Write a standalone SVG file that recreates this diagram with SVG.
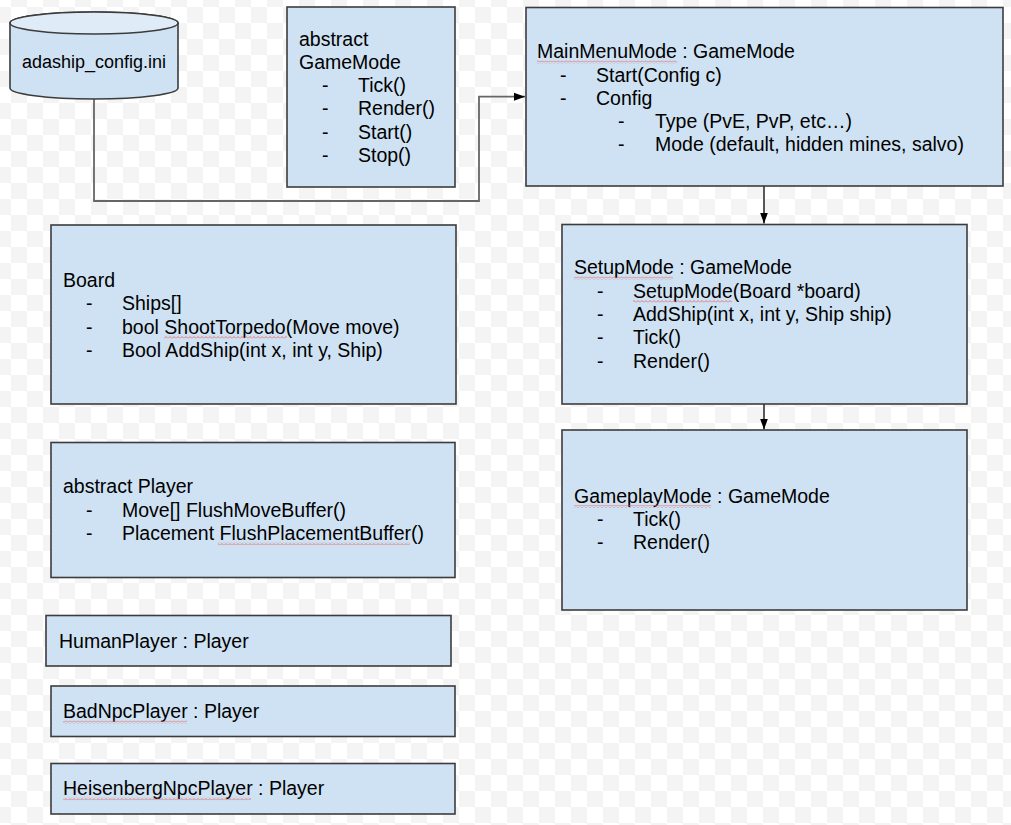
<svg xmlns="http://www.w3.org/2000/svg" width="1011" height="825" viewBox="0 0 1011 825">
  <style>
    .box { fill: #cfe2f3; stroke: #3c3c3c; stroke-width: 1.6; }
    .lbl { font-family: "Liberation Sans", Arial, sans-serif; font-size: 19.5px; fill: #000; }
    .cyl { font-family: "Liberation Sans", Arial, sans-serif; font-size: 18px; fill: #000; }
    .wire { fill: none; stroke: #666; stroke-width: 1.8; }
    .flow { fill: none; stroke: #000; stroke-width: 1.3; }
    .squig { fill: url(#squiggle); }
  </style>
  <defs>
    <pattern id="checker" x="11" y="7" width="32" height="32" patternUnits="userSpaceOnUse">
      <rect width="32" height="32" fill="#ffffff"/>
      <rect x="16" y="0" width="16" height="16" fill="#f4f4f4"/>
      <rect x="0" y="16" width="16" height="16" fill="#f4f4f4"/>
    </pattern>
    <pattern id="squiggle" x="0" y="0" width="4" height="3" patternUnits="userSpaceOnUse">
      <path d="M0,2.5 L2,0.5 L4,2.5" fill="none" stroke="#e26a6a" stroke-width="0.9"/>
    </pattern>
    <marker id="head" markerUnits="userSpaceOnUse" markerWidth="12" markerHeight="9" refX="11" refY="4.5" orient="auto">
      <path d="M0,0.5 L11,4.5 L0,8.5 Z" fill="#000"/>
    </marker>
  </defs>

  <!-- transparent-canvas backdrop -->
  <rect width="1011" height="825" fill="url(#checker)"/>

  <!-- connectors -->
  <g id="connectors">
    <path class="wire" d="M94,99 V201 H479 V96.7 H525" marker-end="url(#head)"/>
    <path class="flow" d="M764,186 V223.5" marker-end="url(#head)"/>
    <path class="flow" d="M764,404 V429.5" marker-end="url(#head)"/>
  </g>

  <!-- config file store -->
  <g id="config-file">
    <path d="M10,23 A84,11 0 0 1 178,23 V88 A84,11 0 0 1 10,88 Z" fill="#cfe2f3" stroke="#3c3c3c" stroke-width="1.6"/>
    <ellipse cx="94" cy="23" rx="84" ry="11" fill="#dfecf8" stroke="#3c3c3c" stroke-width="1.6"/>
    <text class="cyl" x="94" y="68" text-anchor="middle">adaship_config.ini</text>
  </g>

  <!-- abstract GameMode -->
  <g id="gamemode">
    <rect class="box" x="287" y="7" width="168" height="180"/>
    <text class="lbl">
      <tspan x="299" y="45.7">abstract</tspan>
      <tspan x="299" y="68.9">GameMode</tspan>
      <tspan x="322" y="92.1">-</tspan><tspan x="358" y="92.1">Tick()</tspan>
      <tspan x="322" y="115.3">-</tspan><tspan x="358" y="115.3">Render()</tspan>
      <tspan x="322" y="138.5">-</tspan><tspan x="358" y="138.5">Start()</tspan>
      <tspan x="322" y="161.7">-</tspan><tspan x="358" y="161.7">Stop()</tspan>
    </text>
  </g>

  <!-- MainMenuMode -->
  <g id="mainmenumode">
    <rect class="box" x="526" y="7.5" width="477" height="178.5"/>
    <text class="lbl">
      <tspan x="537" y="58.3">MainMenuMode : GameMode</tspan>
      <tspan x="560" y="81.5">-</tspan><tspan x="596" y="81.5">Start(Config c)</tspan>
      <tspan x="560" y="104.7">-</tspan><tspan x="596" y="104.7">Config</tspan>
      <tspan x="618" y="127.9">-</tspan><tspan x="655" y="127.9">Type (PvE, PvP, etc…)</tspan>
      <tspan x="618" y="151.1">-</tspan><tspan x="655" y="151.1">Mode (default, hidden mines, salvo)</tspan>
    </text>
    <rect class="squig" x="537" y="60.5" width="140" height="3"/>
  </g>

  <!-- Board -->
  <g id="board">
    <rect class="box" x="51" y="225" width="405" height="179"/>
    <text class="lbl">
      <tspan x="63" y="286.9">Board</tspan>
      <tspan x="86" y="310.2">-</tspan><tspan x="122" y="310.2">Ships[]</tspan>
      <tspan x="86" y="333.5">-</tspan><tspan x="122" y="333.5">bool ShootTorpedo(Move move)</tspan>
      <tspan x="86" y="356.8">-</tspan><tspan x="122" y="356.8">Bool AddShip(int x, int y, Ship)</tspan>
    </text>
    <rect class="squig" x="164" y="335.8" width="123" height="3"/>
  </g>

  <!-- SetupMode -->
  <g id="setupmode">
    <rect class="box" x="562" y="224.5" width="405" height="179.5"/>
    <text class="lbl">
      <tspan x="574" y="274.3">SetupMode : GameMode</tspan>
      <tspan x="597" y="297.6">-</tspan><tspan x="633" y="297.6">SetupMode(Board *board)</tspan>
      <tspan x="597" y="320.9">-</tspan><tspan x="633" y="320.9">AddShip(int x, int y, Ship ship)</tspan>
      <tspan x="597" y="344.2">-</tspan><tspan x="633" y="344.2">Tick()</tspan>
      <tspan x="597" y="367.5">-</tspan><tspan x="633" y="367.5">Render()</tspan>
    </text>
    <rect class="squig" x="574" y="276.6" width="99" height="3"/>
    <rect class="squig" x="633" y="299.9" width="99" height="3"/>
  </g>

  <!-- GameplayMode -->
  <g id="gameplaymode">
    <rect class="box" x="562" y="430" width="405" height="180"/>
    <text class="lbl">
      <tspan x="574" y="502.7">GameplayMode : GameMode</tspan>
      <tspan x="597" y="526">-</tspan><tspan x="633" y="526">Tick()</tspan>
      <tspan x="597" y="549.3">-</tspan><tspan x="633" y="549.3">Render()</tspan>
    </text>
    <rect class="squig" x="574" y="505" width="137" height="3"/>
  </g>

  <!-- abstract Player -->
  <g id="player">
    <rect class="box" x="51" y="442.5" width="404" height="135"/>
    <text class="lbl">
      <tspan x="63" y="493.3">abstract Player</tspan>
      <tspan x="86" y="516.6">-</tspan><tspan x="122" y="516.6">Move[] FlushMoveBuffer()</tspan>
      <tspan x="86" y="539.9">-</tspan><tspan x="122" y="539.9">Placement FlushPlacementBuffer()</tspan>
    </text>
    <rect class="squig" x="218" y="542.2" width="192" height="3"/>
  </g>

  <!-- HumanPlayer -->
  <g id="humanplayer">
    <rect class="box" x="46" y="615.5" width="405" height="50.5"/>
    <text class="lbl" x="59" y="647.7">HumanPlayer : Player</text>
  </g>

  <!-- BadNpcPlayer -->
  <g id="badnpcplayer">
    <rect class="box" x="51" y="686" width="404" height="50.5"/>
    <text class="lbl" x="63" y="718.3">BadNpcPlayer : Player</text>
    <rect class="squig" x="63" y="720.6" width="124" height="3"/>
  </g>

  <!-- HeisenbergNpcPlayer -->
  <g id="heisenbergnpcplayer">
    <rect class="box" x="51" y="763.5" width="404" height="50.5"/>
    <text class="lbl" x="63" y="795">HeisenbergNpcPlayer : Player</text>
    <rect class="squig" x="63" y="797.3" width="188" height="3"/>
  </g>
</svg>
